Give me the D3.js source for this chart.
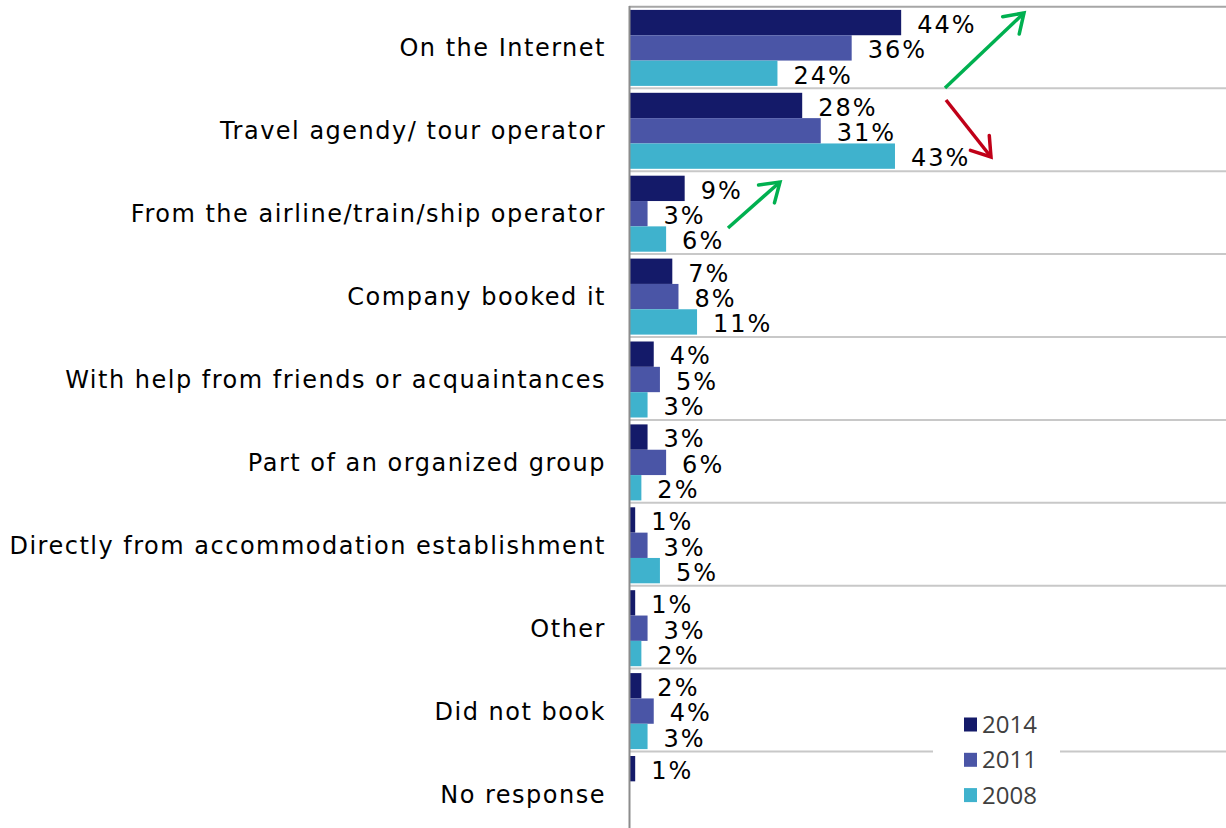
<!DOCTYPE html>
<html><head><meta charset="utf-8">
<script src="https://cdn.jsdelivr.net/npm/d3@7"></script>
<style>html,body{margin:0;padding:0;background:#fff;}svg{display:block;}</style>
</head><body>
<svg id="chart" width="1226" height="828"></svg>
<script>
const categories = ["On the Internet","Travel agendy/ tour operator","From the airline/train/ship operator","Company booked it","With help from friends or acquaintances","Part of an organized group","Directly from accommodation establishment","Other","Did not book","No response"];
const years = ["2014","2011","2008"];
const v2014 = [44,28,9,7,4,3,1,1,2,1];
const v2011 = [36,31,3,8,5,6,3,3,4,null];
const v2008 = [24,43,6,11,3,2,5,2,3,null];
const colors = ["#141A69","#4A55A6","#3FB2CD"];
const seriesVals = [v2014, v2011, v2008];

const svg = d3.select("#chart");
const W = 1226, H = 828;
const x0 = 629;
const x = d3.scaleLinear().domain([0, 97]).range([x0, x0 + 600]);
const y = d3.scaleBand().domain(categories).range([5.4, 5.4 + 82.9*10]).padding(0);
const ySub = d3.scaleBand().domain(years).range([4.5, 80.5]).padding(0);

// separators
svg.append("g").selectAll("line").data(categories.slice(1)).join("line")
  .attr("x1", x0).attr("x2", W)
  .attr("y1", d => y(d)).attr("y2", d => y(d))
  .attr("stroke", "#c8c8c8").attr("stroke-width", 2);
svg.append("line").attr("x1", x0).attr("x2", W).attr("y1", 6.7).attr("y2", 6.7)
  .attr("stroke", "#a6a6a6").attr("stroke-width", 2);

// bars
const rows = [];
categories.forEach((c, i) => years.forEach((yr, j) => {
  const v = seriesVals[j][i];
  if (v != null) rows.push({c, yr, v, color: colors[j]});
}));
svg.append("g").selectAll("rect").data(rows).join("rect")
  .attr("x", x0).attr("y", d => y(d.c) + ySub(d.yr))
  .attr("width", d => x(d.v) - x0).attr("height", ySub.bandwidth())
  .attr("fill", d => d.color);

// value labels
svg.append("g").selectAll("text").data(rows).join("text")
  .attr("x", d => x(d.v) + 16).attr("y", d => y(d.c) + ySub(d.yr) + ySub.bandwidth()/2)
  .attr("dy", "0.43em")
  .attr("font-family", "DejaVu Sans").attr("font-size", 24).attr("letter-spacing", 2).attr("fill", "#000")
  .text(d => d.v + "%");

// axis (category)
const axis = d3.axisLeft(y).tickSize(0).tickPadding(23);
const ag = svg.append("g").attr("transform", `translate(${x0},0)`).call(axis);
ag.select(".domain").attr("stroke", "#8c8c8c").attr("stroke-width", 2);
ag.selectAll("text").attr("font-family", "DejaVu Sans").attr("font-size", 24).attr("letter-spacing", 1.5)
  .attr("fill", "#000").attr("dy", "0.4em");

// arrows
const defs = svg.append("defs");
function marker(id, col) {
  defs.append("marker").attr("id", id).attr("viewBox", "-25 -20 30 40")
    .attr("refX", 0).attr("refY", 0).attr("markerWidth", 30).attr("markerHeight", 40)
    .attr("markerUnits", "userSpaceOnUse").attr("orient", "auto")
    .append("path").attr("d", "M-18,-12 L0,0 L-18,12").attr("fill", "none")
    .attr("stroke", col).attr("stroke-width", 3.5).attr("stroke-linecap", "round");
}
marker("mg", "#00B050"); marker("mr", "#C00018");
const arrows = [
  {x1: 945, y1: 88, x2: 1024, y2: 13, c: "#00B050", m: "mg"},
  {x1: 946, y1: 100, x2: 991, y2: 157, c: "#C00018", m: "mr"},
  {x1: 728, y1: 228, x2: 780, y2: 182, c: "#00B050", m: "mg"}
];
svg.append("g").selectAll("line").data(arrows).join("line")
  .attr("x1", d => d.x1).attr("y1", d => d.y1).attr("x2", d => d.x2).attr("y2", d => d.y2)
  .attr("stroke", d => d.c).attr("stroke-width", 3.5).attr("marker-end", d => `url(#${d.m})`);

// legend
const lg = svg.append("g");
lg.append("rect").attr("x", 933).attr("y", 700).attr("width", 127).attr("height", 115).attr("fill", "#fff");
const li = lg.selectAll("g").data(years).join("g")
  .attr("transform", (d, i) => `translate(964,${724.5 + i*35.3})`);
li.append("rect").attr("x", 0).attr("y", -7).attr("width", 13).attr("height", 14).attr("fill", (d, i) => colors[i]);
li.append("text").attr("x", 18).attr("y", 0).attr("dy", "0.36em")
  .attr("font-family", "Open Sans").attr("font-size", 24).attr("fill", "#404040").text(d => d);
</script>
</body></html>
